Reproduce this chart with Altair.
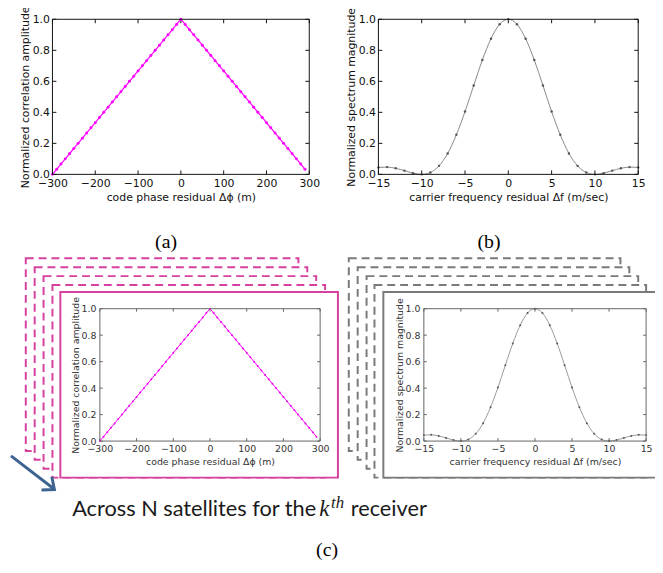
import altair as alt
import pandas as pd

# ---------------- data ----------------
code_x = [-300, -290, -280, -270, -260, -250, -240, -230, -220, -210,
          -200, -190, -180, -170, -160, -150, -140, -130, -120, -110,
          -100, -90, -80, -70, -60, -50, -40, -30, -20, -10,
          0, 10, 20, 30, 40, 50, 60, 70, 80, 90,
          100, 110, 120, 130, 140, 150, 160, 170, 180, 190,
          200, 210, 220, 230, 240, 250, 260, 270, 280, 290]
code_y = [0.000, 0.033, 0.067, 0.100, 0.133, 0.167, 0.200, 0.233, 0.267, 0.300,
          0.333, 0.367, 0.400, 0.433, 0.467, 0.500, 0.533, 0.567, 0.600, 0.633,
          0.667, 0.700, 0.733, 0.767, 0.800, 0.833, 0.867, 0.900, 0.933, 0.967,
          1.000, 0.967, 0.933, 0.900, 0.867, 0.833, 0.800, 0.767, 0.733, 0.700,
          0.667, 0.633, 0.600, 0.567, 0.533, 0.500, 0.467, 0.433, 0.400, 0.367,
          0.333, 0.300, 0.267, 0.233, 0.200, 0.167, 0.133, 0.100, 0.067, 0.033]

freq_x = [-15, -14, -13, -12, -11, -10, -9, -8, -7, -6, -5, -4, -3, -2, -1, 0,
          1, 2, 3, 4, 5, 6, 7, 8, 9, 10, 11, 12, 13, 14, 15]
freq_y = [0.045, 0.047, 0.039, 0.024, 0.008, 0.000, 0.012, 0.055, 0.135, 0.255,
          0.405, 0.573, 0.737, 0.875, 0.968, 1.000, 0.968, 0.875, 0.737, 0.573,
          0.405, 0.255, 0.135, 0.055, 0.012, 0.000, 0.008, 0.024, 0.039, 0.047, 0.045]

code_ticks = [-300, -200, -100, 0, 100, 200, 300]
freq_ticks = [-15, -10, -5, 0, 5, 10, 15]
amp_ticks = [0.0, 0.2, 0.4, 0.6, 0.8, 1.0]

code_title = "code phase residual Δϕ (m)"
freq_title = "carrier frequency residual Δf (m/sec)"
corr_title = "Normalized correlation amplitude"
spec_title = "Normalized spectrum magnitude"

FONT = "DejaVu Sans"
ONE = [{"k": 0}]


def panel(xs, ys, xdom, xticks, xtitle, ytitle, w, h, st, frames=(), notes=(), extra=()):
    df = pd.DataFrame({"x": xs, "y": ys})
    xt = pd.DataFrame({"x": xticks})
    yt = pd.DataFrame({"y": amp_ticks})
    xscale = alt.Scale(domain=xdom, nice=False, zero=False)
    yscale = alt.Scale(domain=[0, 1], nice=False, zero=False)
    common = dict(ticks=False, domain=False, grid=False, labelOverlap=False,
                  labelFont=FONT, labelFontSize=st["fs"], labelColor=st["lab"],
                  titleFont=FONT, titleFontSize=st["fs"], titleFontWeight="normal",
                  titleColor=st["lab"], zindex=1)
    xaxis = alt.Axis(title=xtitle, values=xticks, format="d", labelFlush=False,
                     labelPadding=st["xlp"], titlePadding=st["xtp"], **common)
    yaxis = alt.Axis(title=ytitle, values=amp_ticks, format=".1f",
                     labelPadding=st["ylp"], titlePadding=st["ytp"], **common)

    def X():
        return alt.X("x:Q", scale=xscale, axis=xaxis)

    def Y():
        return alt.Y("y:Q", scale=yscale, axis=yaxis)

    layers = []
    for (fx, fy, fw, fh, col, dash) in frames:
        kw = dict(fill="white", stroke=col, strokeWidth=2)
        if dash:
            kw["strokeDash"] = [8, 5]
        layers.append(alt.Chart(alt.Data(values=ONE)).mark_rect(**kw).encode(
            x=alt.value(fx), x2=alt.value(fx + fw), y=alt.value(fy), y2=alt.value(fy + fh)))

    tl = st["tl"]
    tick_kw = dict(color=st["border"], strokeWidth=1)
    layers.append(alt.Chart(xt).mark_rule(**tick_kw).encode(x=X(), y=alt.value(h), y2=alt.value(h - tl)))
    layers.append(alt.Chart(xt).mark_rule(**tick_kw).encode(x=X(), y=alt.value(0), y2=alt.value(tl)))
    layers.append(alt.Chart(yt).mark_rule(**tick_kw).encode(y=Y(), x=alt.value(0), x2=alt.value(tl)))
    layers.append(alt.Chart(yt).mark_rule(**tick_kw).encode(y=Y(), x=alt.value(w), x2=alt.value(w - tl)))

    layers.append(alt.Chart(df).mark_line(color=st["line"], strokeWidth=st["lw"],
                                          interpolate=st["interp"]).encode(x=X(), y=Y()))
    layers.append(alt.Chart(df).mark_point(filled=True, color=st["dot"], size=st["ds"],
                                           opacity=1).encode(x=X(), y=Y()))
    layers.append(alt.Chart(alt.Data(values=ONE)).mark_rect(
        fillOpacity=0, stroke=st["border"], strokeWidth=1).encode(
        x=alt.value(0), x2=alt.value(w), y=alt.value(0), y2=alt.value(h)))

    for (txt, tx, ty, font, size, style, align, color) in notes:
        layers.append(alt.Chart(alt.Data(values=ONE)).mark_text(
            text=txt, font=font, fontSize=size, fontStyle=style, align=align,
            baseline="alphabetic", color=color).encode(x=alt.value(tx), y=alt.value(ty)))
    layers.extend(extra)
    return alt.layer(*layers).properties(width=w, height=h)


big = dict(fs=11, lab="#111111", xlp=3, xtp=3, ylp=3, ytp=2, tl=4, border="#111111")
small = dict(fs=9.5, lab="#333333", xlp=3, xtp=3, ylp=4, ytp=1, tl=3, border="#666666")

st_a = dict(big, line="#ff00ff", lw=1.2, dot="#ff00ff", ds=9, interp="linear")
st_b = dict(big, line="#888888", lw=1.0, dot="#555555", ds=6, interp="monotone")
st_c = dict(small, line="#ff00ff", lw=1.0, dot="#ee00ee", ds=4, interp="linear")
st_d = dict(small, line="#999999", lw=1.0, dot="#555555", ds=4, interp="monotone")

SERIF = "Liberation Serif"
MAG = "#d6409f"
GRY = "#7a7a7a"

chart_a = panel(code_x, code_y, [-300, 300], code_ticks, code_title, corr_title, 260, 157, st_a,
                notes=[("(a)", 115, 232, SERIF, 20, "normal", "center", "#000000")])
chart_b = panel(freq_x, freq_y, [-15, 15], freq_ticks, freq_title, spec_title, 263, 157, st_b,
                notes=[("(b)", 112, 232, SERIF, 20, "normal", "center", "#000000")])

frames_c = [(-75, -51, 276, 195, MAG, True), (-66, -42, 276, 195, MAG, True),
            (-57, -33, 276, 195, MAG, True), (-48, -24, 276, 195, MAG, True),
            (-40, -17, 281, 188, MAG, False)]
frames_d = [(-76, -51, 275, 195, GRY, True), (-67, -42, 275, 195, GRY, True),
            (-58, -33, 275, 195, GRY, True), (-50, -24, 275, 195, GRY, True),
            (-41, -17, 277, 188, GRY, False)]

arrow_col = "#3d6491"
arrow = [
    alt.Chart(alt.Data(values=ONE)).mark_rule(color=arrow_col, strokeWidth=3).encode(
        x=alt.value(-90), y=alt.value(149), x2=alt.value(-47), y2=alt.value(182)),
    alt.Chart(alt.Data(values=ONE)).mark_point(
        shape="M-1,-0.85L0,0L-1,0.85", filled=False, stroke=arrow_col, strokeWidth=3,
        size=400, angle=38, opacity=1).encode(x=alt.value(-46), y=alt.value(183)),
]

notes_c = [
    ("Across N satellites for the", -28, 210, "Lato", 22, "normal", "left", "#1a1a1a"),
    ("k", 222, 210, SERIF, 23, "italic", "left", "#1a1a1a"),
    ("th", 234, 202, SERIF, 17, "italic", "left", "#1a1a1a"),
    ("receiver", 254, 210, "Lato", 22, "normal", "left", "#1a1a1a"),
    ("(c)", 230, 250, SERIF, 20, "normal", "center", "#000000"),
]

chart_c = panel(code_x, code_y, [-300, 300], code_ticks, code_title, corr_title, 223, 134, st_c,
                frames=frames_c, notes=notes_c, extra=arrow)
chart_d = panel(freq_x, freq_y, [-15, 15], freq_ticks, freq_title, spec_title, 225, 134, st_d,
                frames=frames_d)

spacer = alt.Chart(alt.Data(values=ONE)).mark_point(opacity=0).encode(
    x=alt.value(0), y=alt.value(0)).properties(width=48, height=134)

top_row = alt.hconcat(chart_a, chart_b, spacing=70, bounds="flush")
bottom_row = alt.hconcat(spacer, alt.hconcat(chart_c, chart_d, spacing=105, bounds="flush"),
                         spacing=0, bounds="flush")

# nested concat groups count as zero height in flush layout, so the row
# spacing covers the top row's plot height too
chart = alt.vconcat(top_row, bottom_row, spacing=293, bounds="flush").properties(
    padding={"left": 1, "top": -6, "right": -3, "bottom": 0},
    background="white",
).configure_view(stroke=None)

chart.save("out.html", embed_options={"renderer": "svg", "actions": False})
